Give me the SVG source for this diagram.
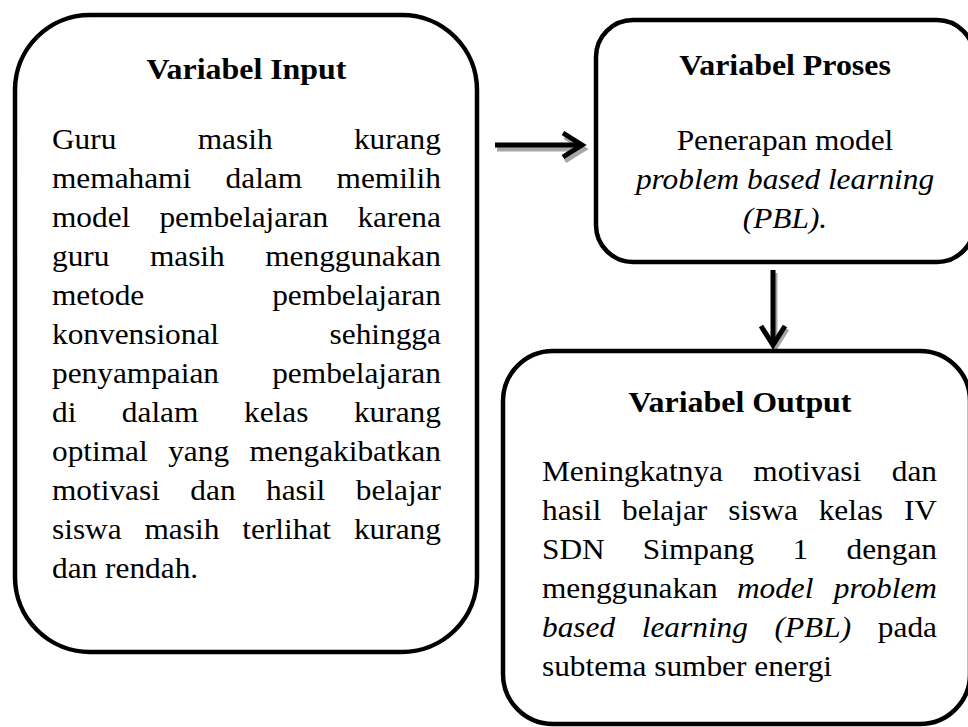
<svg xmlns="http://www.w3.org/2000/svg" width="968" height="727" viewBox="0 0 968 727">
<style>
.box{fill:#fff;stroke:#000;stroke-width:4.5}
.t{font-family:"Liberation Serif","Times New Roman",serif;font-size:28.5px;fill:#000}
.b{font-weight:bold;font-size:29px}
.i{font-style:italic}
.e{text-anchor:end}
.m{text-anchor:middle}
.ar{fill:none;stroke:#000;stroke-width:5}
.sh{fill:none;stroke:#a6a6a6;stroke-width:5}
</style>
<rect width="968" height="727" fill="#fff"/>
<g id="connectors">
  <g transform="translate(2,4)">
    <line class="sh" x1="495" y1="145" x2="580" y2="145"/>
    <polyline class="sh" points="563,133 582,145 563,157"/>
  </g>
  <line class="ar" x1="495" y1="145" x2="580" y2="145"/>
  <polyline class="ar" points="563,133 582,145 563,157"/>
  <g transform="translate(2,3)">
    <line class="sh" x1="773" y1="270" x2="773" y2="344"/>
    <polyline class="sh" points="761,326 773,345 785,326"/>
  </g>
  <line class="ar" x1="773" y1="270" x2="773" y2="344"/>
  <polyline class="ar" points="761,326 773,345 785,326"/>
</g>
<g id="input">
  <rect class="box" x="15" y="15" width="462" height="637" rx="75"/>
  <g transform="translate(52,0) scale(1.1,1)">
    <text class="t b m" x="176.8" y="79">Variabel Input</text>
    <text class="t" x="0" y="149">Guru</text><text class="t" x="132.5" y="149">masih</text><text class="t e" x="353.6" y="149">kurang</text>
    <text class="t" x="0" y="188">memahami</text><text class="t" x="157.8" y="188">dalam</text><text class="t e" x="353.6" y="188">memilih</text>
    <text class="t" x="0" y="227">model</text><text class="t" x="97.7" y="227">pembelajaran</text><text class="t e" x="353.6" y="227">karena</text>
    <text class="t" x="0" y="266">guru</text><text class="t" x="89" y="266">masih</text><text class="t e" x="353.6" y="266">menggunakan</text>
    <text class="t" x="0" y="305">metode</text><text class="t e" x="353.6" y="305">pembelajaran</text>
    <text class="t" x="0" y="344">konvensional</text><text class="t e" x="353.6" y="344">sehingga</text>
    <text class="t" x="0" y="383">penyampaian</text><text class="t e" x="353.6" y="383">pembelajaran</text>
    <text class="t" x="0" y="422">di</text><text class="t" x="63.5" y="422">dalam</text><text class="t" x="174.6" y="422">kelas</text><text class="t e" x="353.6" y="422">kurang</text>
    <text class="t" x="0" y="461">optimal</text><text class="t" x="105.6" y="461">yang</text><text class="t e" x="353.6" y="461">mengakibatkan</text>
    <text class="t" x="0" y="500">motivasi</text><text class="t" x="125.8" y="500">dan</text><text class="t" x="194.6" y="500">hasil</text><text class="t e" x="353.6" y="500">belajar</text>
    <text class="t" x="0" y="539">siswa</text><text class="t" x="84.1" y="539">masih</text><text class="t" x="173" y="539">terlihat</text><text class="t e" x="353.6" y="539">kurang</text>
    <text class="t" x="0" y="578">dan rendah.</text>
  </g>
</g>
<g id="proses">
  <rect class="box" x="596" y="20" width="378" height="242" rx="37"/>
  <g transform="translate(785,0) scale(1.1,1)">
    <text class="t b m" x="0" y="75">Variabel Proses</text>
    <text class="t m" x="0" y="150">Penerapan model</text>
    <text class="t i m" x="0" y="189">problem based learning</text>
    <text class="t i m" x="0" y="228">(PBL).</text>
  </g>
</g>
<g id="output">
  <rect class="box" x="503" y="351" width="467" height="373" rx="50"/>
  <g transform="translate(542,0) scale(1.1,1)">
    <text class="t b m" x="180" y="412">Variabel Output</text>
    <text class="t" x="0" y="481">Meningkatnya</text><text class="t" x="192.1" y="481">motivasi</text><text class="t e" x="359.1" y="481">dan</text>
    <text class="t" x="0" y="520">hasil</text><text class="t" x="72.8" y="520">belajar</text><text class="t" x="169.3" y="520">siswa</text><text class="t" x="251.5" y="520">kelas</text><text class="t e" x="359.1" y="520">IV</text>
    <text class="t" x="0" y="559">SDN</text><text class="t" x="91.7" y="559">Simpang</text><text class="t" x="227.8" y="559">1</text><text class="t e" x="359.1" y="559">dengan</text>
    <text class="t" x="0" y="598">menggunakan</text><text class="t i" x="177.2" y="598">model</text><text class="t i e" x="359.1" y="598">problem</text>
    <text class="t i" x="0" y="637">based</text><text class="t i" x="90.7" y="637">learning</text><text class="t i" x="211.4" y="637">(PBL)</text><text class="t e" x="359.1" y="637">pada</text>
    <text class="t" x="0" y="676">subtema sumber energi</text>
  </g>
</g>
</svg>
